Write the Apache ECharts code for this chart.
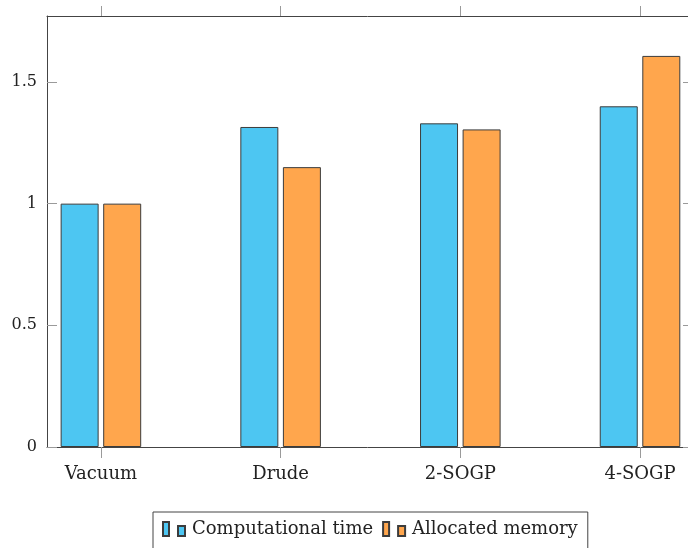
<!DOCTYPE html>
<html>
<head>
<meta charset="utf-8">
<script src="https://cdn.jsdelivr.net/npm/echarts@6/dist/echarts.min.js"></script>
<style>
  html, body { margin: 0; padding: 0; background: #fff; }
  #chart { width: 688px; height: 548px; }
</style>
</head>
<body>
<div id="chart"></div>
<script>
// Relative cost of each model, normalised to the vacuum run
const categories = ['Vacuum', 'Drude', '2-SOGP', '4-SOGP'];
const computationalTime = [1.0, 1.315, 1.33, 1.4];
const allocatedMemory = [1.0, 1.15, 1.305, 1.607];
const yTicks = [0, 0.5, 1, 1.5];
const seriesNames = ['Computational time', 'Allocated memory'];

const FONT = 'DejaVu Serif';
const BLUE = '#4DC6F2';
const ORANGE = '#FFA64D';
const EDGE = '#3c3c3c';
const AXIS = '#444';
const TICK = '#9a9a9a';

const positions = categories.map((_, i) => i);
const legendIcon = 'path://M0,0 H6 V14 H0 Z M15,4 H22 V14 H15 Z';

// the frame's right edge sits just past the page edge, so the x range stops short of 3.3
const X_MIN = -0.3, X_MAX = 3.267, Y_MAX = 1.771;

const frameLine = { show: true, onZero: false, lineStyle: { color: AXIS, width: 1 } };

const chart = echarts.init(document.getElementById('chart'));
chart.setOption({
  animation: false,
  backgroundColor: '#fff',
  grid: { left: 47, right: 0, top: 16, bottom: 101, containLabel: false },
  xAxis: [
    {
      type: 'value', min: X_MIN, max: X_MAX, position: 'bottom',
      splitLine: { show: false },
      axisLine: frameLine,
      axisTick: { show: true, inside: false, length: 11, customValues: positions,
                  lineStyle: { color: TICK, width: 1 } },
      axisLabel: { show: true, customValues: positions, margin: 18,
                   formatter: v => categories[Math.round(v)] || '',
                   fontFamily: FONT, fontSize: 18, color: '#222' }
    },
    {
      type: 'value', min: X_MIN, max: X_MAX, position: 'top',
      splitLine: { show: false },
      axisLine: frameLine,
      axisTick: { show: true, inside: false, length: 10, customValues: positions,
                  lineStyle: { color: TICK, width: 1 } },
      axisLabel: { show: false }
    }
  ],
  yAxis: [
    {
      type: 'value', min: 0, max: Y_MAX, position: 'left',
      splitLine: { show: false },
      axisLine: frameLine,
      axisTick: { show: true, inside: true, length: 10, customValues: yTicks,
                  lineStyle: { color: TICK, width: 1 } },
      axisLabel: { show: true, customValues: yTicks, margin: 10,
                   fontFamily: FONT, fontSize: 16, color: '#222' }
    },
    {
      type: 'value', min: 0, max: Y_MAX, position: 'right',
      splitLine: { show: false },
      axisLine: { show: false, onZero: false },
      axisTick: { show: true, inside: true, length: 5, customValues: yTicks,
                  lineStyle: { color: TICK, width: 1 } },
      axisLabel: { show: false }
    }
  ],
  legend: {
    show: true,
    left: 153, top: 512,
    orient: 'horizontal',
    padding: [8, 10, 12, 9],
    itemGap: 9,
    itemWidth: 22, itemHeight: 14,
    borderColor: AXIS, borderWidth: 1,
    icon: legendIcon,
    textStyle: { fontFamily: FONT, fontSize: 18, color: '#222', padding: [2, 0, 0, 2] },
    data: seriesNames
  },
  series: [
    {
      name: seriesNames[0], type: 'bar', xAxisIndex: 0, yAxisIndex: 0,
      barWidth: 38, barGap: '12%',
      itemStyle: { color: BLUE, borderColor: EDGE, borderWidth: 1 },
      data: computationalTime.map((v, i) => [positions[i], v])
    },
    {
      name: seriesNames[1], type: 'bar', xAxisIndex: 0, yAxisIndex: 0,
      barWidth: 38, barGap: '12%',
      itemStyle: { color: ORANGE, borderColor: EDGE, borderWidth: 1 },
      data: allocatedMemory.map((v, i) => [positions[i], v])
    }
  ]
});
</script>
</body>
</html>
